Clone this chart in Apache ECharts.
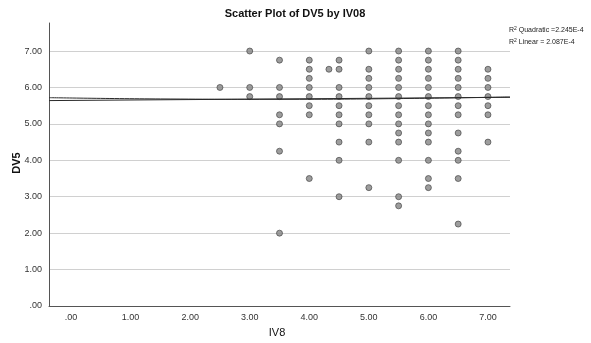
<!DOCTYPE html>
<html>
<head>
<meta charset="utf-8">
<script src="https://cdn.jsdelivr.net/npm/echarts@6/dist/echarts.min.js"></script>
<style>
  html, body { margin: 0; padding: 0; background: #fff; }
  #chart { width: 591px; height: 343px; }
</style>
</head>
<body>
<div id="chart"></div>
<script>
// Observed (IV8, DV5) pairs, grouped by IV8 value
const iv8Values = [2.5, 3.0, 3.5, 4.0, 4.33, 4.5, 5.0, 5.5, 6.0, 6.5, 7.0];
const dv5ByIv8 = [
  [6.0],
  [7.0, 6.0, 5.75],
  [6.75, 6.0, 5.75, 5.25, 5.0, 4.25, 2.0],
  [6.75, 6.5, 6.25, 6.0, 5.75, 5.5, 5.25, 3.5],
  [6.5],
  [6.75, 6.5, 6.0, 5.75, 5.5, 5.25, 5.0, 4.5, 4.0, 3.0],
  [7.0, 6.5, 6.25, 6.0, 5.75, 5.5, 5.25, 5.0, 4.5, 3.25],
  [7.0, 6.75, 6.5, 6.25, 6.0, 5.75, 5.5, 5.25, 5.0, 4.75, 4.5, 4.0, 3.0, 2.75],
  [7.0, 6.75, 6.5, 6.25, 6.0, 5.75, 5.5, 5.25, 5.0, 4.75, 4.5, 4.0, 3.5, 3.25],
  [7.0, 6.75, 6.5, 6.25, 6.0, 5.75, 5.5, 5.25, 4.75, 4.25, 4.0, 3.5, 2.25],
  [6.5, 6.25, 6.0, 5.75, 5.5, 5.25, 4.5]
];

// Fitted lines (values along the IV8 range)
const linearX = [-0.37, 7.37];
const linearY = [5.64, 5.73];
const quadX = [-0.37, 1.5, 3.5, 5.5, 7.37];
const quadY = [5.72, 5.685, 5.675, 5.695, 5.74];

// Axis ticks and labels
const xTicks = [0, 1, 2, 3, 4, 5, 6, 7];
const yTicks = [0, 1, 2, 3, 4, 5, 6, 7];
const fmt = v => (v === 0 ? '.00' : v.toFixed(2));

const points = [];
iv8Values.forEach((x, i) => dv5ByIv8[i].forEach(y => points.push([x, y])));

const chart = echarts.init(document.getElementById('chart'), null, { renderer: 'canvas' });
const font = 'Liberation Sans, Arial, sans-serif';

chart.setOption({
  animation: false,
  backgroundColor: '#ffffff',
  grid: { left: 49, right: 81, top: 23, bottom: 37, containLabel: false },
  xAxis: {
    type: 'value',
    min: -0.37,
    max: 7.37,
    axisLine: { show: true, onZero: false, lineStyle: { color: '#555', width: 1 } },
    axisTick: { show: false, customValues: xTicks },
    splitLine: { show: false },
    axisLabel: {
      customValues: xTicks,
      formatter: fmt,
      color: '#333',
      fontSize: 9,
      fontFamily: font,
      margin: 7
    }
  },
  yAxis: {
    type: 'value',
    min: 0,
    max: 7.77,
    axisLine: { show: true, onZero: false, lineStyle: { color: '#555', width: 1 } },
    axisTick: { show: false, customValues: yTicks },
    splitLine: { show: true, lineStyle: { color: '#d0d0d0', width: 1 } },
    axisLabel: {
      customValues: yTicks,
      formatter: fmt,
      color: '#333',
      fontSize: 9,
      fontFamily: font,
      margin: 7
    }
  },
  series: [
    {
      type: 'scatter',
      data: points,
      symbol: 'circle',
      symbolSize: 6,
      itemStyle: { color: '#858585', borderColor: '#3c3c3c', borderWidth: 0.8 },
      z: 3
    },
    {
      type: 'line',
      data: linearX.map((x, i) => [x, linearY[i]]),
      showSymbol: false,
      lineStyle: { color: '#2a2a2a', width: 1 },
      z: 4
    },
    {
      type: 'line',
      data: quadX.map((x, i) => [x, quadY[i]]),
      smooth: true,
      showSymbol: false,
      lineStyle: { color: '#2a2a2a', width: 1 },
      z: 4
    }
  ],
  graphic: [
    {
      type: 'text', x: 295, y: 14,
      style: { text: 'Scatter Plot of DV5 by IV08', font: 'bold 11px ' + font, fill: '#111', align: 'center', verticalAlign: 'middle' }
    },
    {
      type: 'text', x: 17, y: 163, rotation: Math.PI / 2,
      style: { text: 'DV5', font: 'bold 11px ' + font, fill: '#111', align: 'center', verticalAlign: 'middle' }
    },
    {
      type: 'text', x: 277, y: 333,
      style: { text: 'IV8', font: '11px ' + font, fill: '#111', align: 'center', verticalAlign: 'middle' }
    },
    {
      type: 'text', x: 509, y: 26,
      style: {
        text: '{b|R}{s|2}{b| Quadratic =2.245E-4}',
        rich: {
          b: { font: '7px ' + font, fill: '#222' },
          s: { font: '5px ' + font, fill: '#222', verticalAlign: 'top', padding: [0, 0, 3, 0] }
        }
      }
    },
    {
      type: 'text', x: 509, y: 38,
      style: {
        text: '{b|R}{s|2}{b| Linear = 2.087E-4}',
        rich: {
          b: { font: '7px ' + font, fill: '#222' },
          s: { font: '5px ' + font, fill: '#222', verticalAlign: 'top', padding: [0, 0, 3, 0] }
        }
      }
    }
  ]
});
</script>
</body>
</html>
